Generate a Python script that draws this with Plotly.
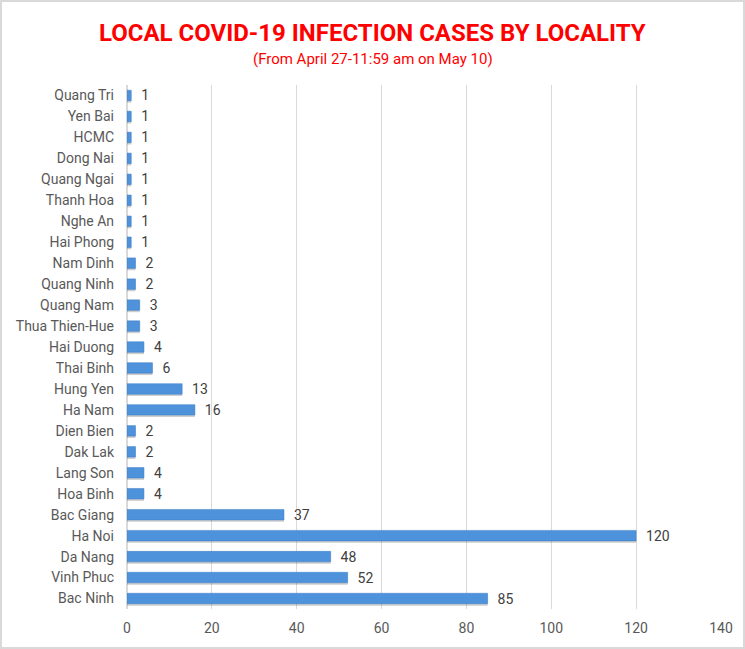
import plotly.graph_objects as go

localities = ["Bac Ninh", "Vinh Phuc", "Da Nang", "Ha Noi", "Bac Giang", "Hoa Binh", "Lang Son",
              "Dak Lak", "Dien Bien", "Ha Nam", "Hung Yen", "Thai Binh", "Hai Duong",
              "Thua Thien-Hue", "Quang Nam", "Quang Ninh", "Nam Dinh", "Hai Phong", "Nghe An",
              "Thanh Hoa", "Quang Ngai", "Dong Nai", "HCMC", "Yen Bai", "Quang Tri"]
cases = [85, 52, 48, 120, 37, 4, 4, 2, 2, 16, 13, 6, 4, 3, 3, 2, 2, 1, 1, 1, 1, 1, 1, 1, 1]
x_ticks = [0, 20, 40, 60, 80, 100, 120, 140]

FONT = "Roboto, sans-serif"
L, R, T, B = 127, 24, 85, 40
PW, PH = 745 - L - R, 649 - T - B

fig = go.Figure()
# soft shadow under bars
fig.add_trace(go.Bar(
    y=localities, x=cases, orientation="h", width=0.5, offset=-0.34,
    marker=dict(color="rgba(80,80,80,0.28)", line=dict(width=0)),
    hoverinfo="skip",
))
fig.add_trace(go.Bar(
    y=localities, x=cases, orientation="h",
    marker=dict(color="#4d92db", line=dict(color="#3d7fc6", width=0.5)),
    width=0.5, offset=-0.25,
    text=["  " + str(v) for v in cases], textposition="outside", constraintext="none",
    textfont=dict(family=FONT, size=14, color="#404040"),
    cliponaxis=False,
))
fig.update_layout(
    width=745, height=649,
    margin=dict(l=L, r=R, t=T, b=B),
    paper_bgcolor="white", plot_bgcolor="white",
    showlegend=False, barmode="overlay",
    annotations=[
        dict(text="<b>LOCAL COVID-19 INFECTION CASES BY LOCALITY</b>", xref="paper", yref="paper",
             x=0.5 - (L - R) / 2 / PW, y=1 + (T - 33) / PH, xanchor="center", yanchor="middle",
             showarrow=False, font=dict(family=FONT, size=24, color="#ff0000")),
        dict(text="(From April 27-11:59 am on May 10)", xref="paper", yref="paper",
             x=0.5 - (L - R) / 2 / PW, y=1 + (T - 59) / PH, xanchor="center", yanchor="middle",
             showarrow=False, font=dict(family=FONT, size=15, color="#ff0000")),
    ],
    xaxis=dict(range=[0, 140], tickvals=x_ticks, showgrid=True, gridcolor="#d9d9d9",
               zeroline=True, zerolinecolor="#d9d9d9", showline=False, automargin=False,
               tickfont=dict(family=FONT, size=14, color="#595959"), ticks="",
               ticklabelstandoff=9),
    yaxis=dict(categoryorder="array", categoryarray=localities, automargin=False,
               tickfont=dict(family=FONT, size=14, color="#595959"), ticks="",
               ticklabelstandoff=12, showgrid=False),
    shapes=[dict(type="rect", xref="paper", yref="paper", x0=-(L - 1) / PW, x1=1 + (R - 1) / PW,
                 y0=-(B - 1) / PH, y1=1 + (T - 1) / PH, line=dict(color="#d9d9d9", width=2))],
)
fig.write_html("out.html", config={"displayModeBar": False},
               post_script="document.body.style.margin='0';")
